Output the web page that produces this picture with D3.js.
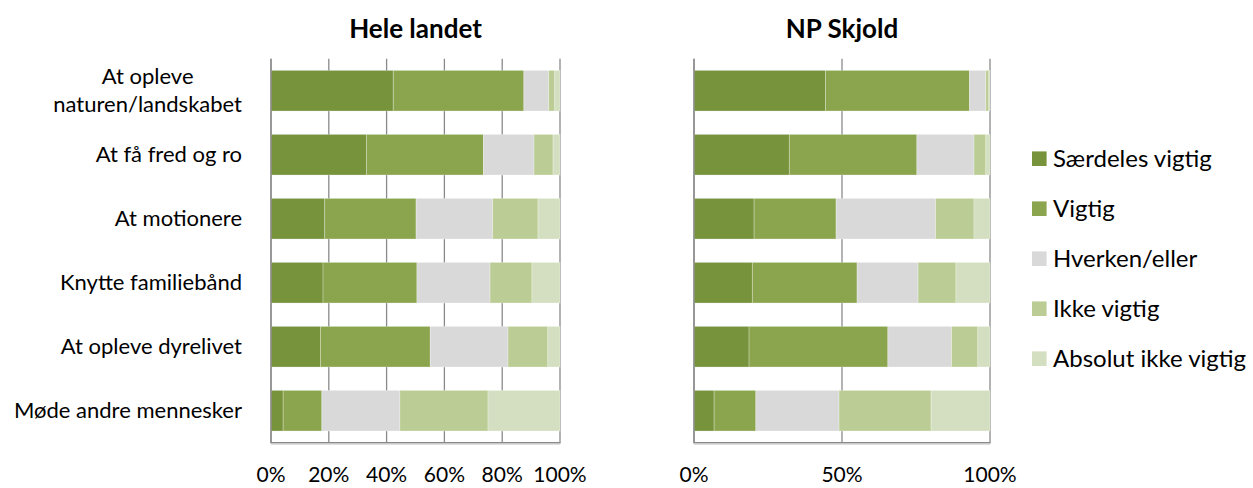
<!DOCTYPE html>
<html>
<head>
<meta charset="utf-8">
<script src="https://cdn.jsdelivr.net/npm/d3@7"></script>
<style>
  body { margin: 0; background: #fff; }
  text { font-family: Lato, "Open Sans", sans-serif; fill: #000; }
</style>
</head>
<body>
<div id="chart"></div>
<script>
// categories, top to bottom
const categories = [
    "At opleve naturen/landskabet",
    "At få fred og ro",
    "At motionere",
    "Knytte familiebånd",
    "At opleve dyrelivet",
    "Møde andre mennesker"
];
const labelLines = [
    ["At opleve", "naturen/landskabet"],
    ["At få fred og ro"],
    ["At motionere"],
    ["Knytte familiebånd"],
    ["At opleve dyrelivet"],
    ["Møde andre mennesker"]
];
const seriesNames = ["Særdeles vigtig", "Vigtig", "Hverken/eller", "Ikke vigtig", "Absolut ikke vigtig"];
const seriesColors = ["#77933c", "#8ba54f", "#d9d9d9", "#bbcd95", "#d3dfc0"];

// percent per series, one value per category
const heleLandet = [
    [42.3, 33.0, 18.6, 18.0, 17.1, 4.2],
    [45.2, 40.5, 31.6, 32.5, 38.0, 13.4],
    [8.6, 17.5, 26.5, 25.3, 26.9, 27.0],
    [2.1, 6.6, 15.7, 14.5, 13.8, 30.5],
    [1.8, 2.4, 7.6, 9.7, 4.2, 24.9]
];
const npSkjold = [
    [44.4, 32.2, 20.3, 19.7, 18.6, 6.8],
    [48.7, 43.1, 27.7, 35.4, 46.9, 14.1],
    [5.5, 19.3, 33.6, 20.6, 21.5, 28.1],
    [1.0, 4.0, 13.0, 12.8, 8.9, 31.1],
    [0.4, 1.4, 5.4, 11.5, 4.1, 19.9]
];
const ticksLeft = [0, 20, 40, 60, 80, 100];
const ticksRight = [0, 50, 100];

const W = 1253, H = 488;
const svg = d3.select("#chart").append("svg")
    .attr("width", W).attr("height", H);

let plotTop = 58.7, plotBottom = 442.7;

let yScale = d3.scaleBand()
    .domain(categories)
    .range([plotTop, plotBottom])
    .paddingInner(0.365)
    .paddingOuter(0.1825);

function drawPanel(values, x0, x1, title, ticks) {
    let xScale = d3.scaleLinear().domain([0, 100]).range([x0, x1]);
    let g = svg.append("g");

    // grid
    g.selectAll(".grid")
        .data(ticks)
        .join("line")
        .attr("x1", d => xScale(d)).attr("x2", d => xScale(d))
        .attr("y1", plotTop).attr("y2", plotBottom)
        .attr("stroke", "#8a8a8a")
        .attr("stroke-width", 1.3);

    let rows = categories.map((c, i) => {
        let r = {cat: c};
        seriesNames.forEach((s, j) => r[s] = values[j][i]);
        return r;
    });
    let stacked = d3.stack().keys(seriesNames)(rows);

    g.selectAll(".series")
        .data(stacked)
        .join("g")
        .attr("fill", (d, i) => seriesColors[i])
        .selectAll("rect")
        .data(d => d)
        .join("rect")
        .attr("x", d => xScale(d[0]))
        .attr("width", d => Math.max(0, xScale(d[1]) - xScale(d[0])))
        .attr("y", d => yScale(d.data.cat))
        .attr("height", yScale.bandwidth())
        .attr("stroke", "rgba(255,255,255,0.35)")
        .attr("stroke-width", 0.8);

    // axis lines
    g.append("line")
        .attr("x1", x0).attr("x2", x0).attr("y1", plotTop).attr("y2", plotBottom)
        .attr("stroke", "#8a8a8a").attr("stroke-width", 1.3);
    g.append("line")
        .attr("x1", x0 - 0.6).attr("x2", x1 + 0.6).attr("y1", plotBottom).attr("y2", plotBottom)
        .attr("stroke", "#8a8a8a").attr("stroke-width", 1.5);
    g.append("line")
        .attr("x1", x0).attr("x2", x1).attr("y1", plotBottom + 1.5).attr("y2", plotBottom + 1.5)
        .attr("stroke", "#d0d0d0").attr("stroke-width", 1);

    // tick labels
    g.selectAll(".tick")
        .data(ticks)
        .join("text")
        .attr("x", d => xScale(d))
        .attr("y", 482)
        .attr("text-anchor", "middle")
        .style("font-size", "21px")
        .text(d => d + "%");

    g.append("text")
        .attr("x", (x0 + x1) / 2)
        .attr("y", 37.5)
        .attr("text-anchor", "middle")
        .style("font-size", "26px")
        .style("font-weight", "bold")
        .text(title);
}

drawPanel(heleLandet, 271, 560, "Hele landet", ticksLeft);
drawPanel(npSkjold, 694, 990, "NP Skjold", ticksRight);

// category labels: block right-aligned, lines centred inside the block
let labelRight = 242;
categories.forEach((c, i) => {
    let lines = labelLines[i];
    let cy = yScale(c) + yScale.bandwidth() / 2;
    let lh = 28;
    let tg = svg.append("g");
    let texts = lines.map((l, k) => tg.append("text")
        .attr("y", cy + (k - (lines.length - 1) / 2) * lh)
        .attr("dy", "0.35em")
        .attr("text-anchor", "middle")
        .style("font-size", "22px")
        .text(l));
    let maxW = d3.max(texts, t => t.node().getComputedTextLength());
    texts.forEach(t => t.attr("x", labelRight - maxW / 2));
});

// legend
let legend = svg.append("g");
seriesNames.forEach((s, i) => {
    let cy = 158.7 + i * 50;
    legend.append("rect")
        .attr("x", 1032).attr("y", cy - 7.3)
        .attr("width", 14.6).attr("height", 14.6)
        .attr("fill", seriesColors[i]);
    legend.append("text")
        .attr("x", 1053).attr("y", cy)
        .attr("dy", "0.35em")
        .style("font-size", "24px")
        .text(s);
});
</script>
</body>
</html>
